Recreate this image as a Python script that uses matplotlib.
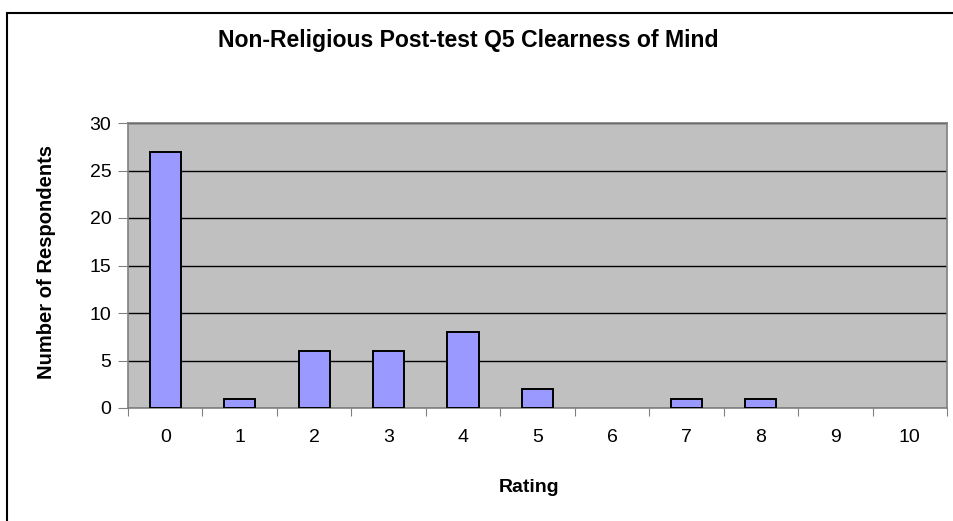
import matplotlib.pyplot as plt
from matplotlib.patches import Rectangle

plt.rcParams['font.family'] = ['Liberation Sans', 'DejaVu Sans']

ratings = [0, 1, 2, 3, 4, 5, 6, 7, 8, 9, 10]
counts = [27, 1, 6, 6, 8, 2, 0, 1, 1, 0, 0]
yticks = [0, 5, 10, 15, 20, 25, 30]

fig = plt.figure(figsize=(9.54, 5.21), dpi=100)
ax = fig.add_axes([128/954, 1 - 408/521, (947 - 128)/954, (408 - 123)/521])

# outer chart border
fig.patches.append(Rectangle((7.5/954, -0.01), 1.0, 1 - 13/521 + 0.01,
                             transform=fig.transFigure, fill=False,
                             edgecolor='black', linewidth=1.5))

ax.set_facecolor('#C0C0C0')
# empty categories get no outline, like Excel
edge_w = [1.4 if c > 0 else 0 for c in counts]
ax.bar(ratings, counts, width=0.42, color='#9999FF', edgecolor='black',
       linewidth=edge_w, zorder=3)

ax.set_xlim(-0.5, 10.5)
ax.set_ylim(0, 30)
ax.set_yticks(yticks)
ax.yaxis.grid(True, color='black', linewidth=1, zorder=1)
ax.set_axisbelow(True)

# category ticks between the bars
ax.set_xticks([x - 0.5 for x in ratings] + [10.5])
ax.set_xticklabels([])
ax.set_xticks(ratings, minor=True)
ax.set_xticklabels([str(r) for r in ratings], minor=True, fontsize=14)
ax.tick_params(axis='x', which='minor', length=0, pad=15)
ax.tick_params(axis='x', which='major', length=6, direction='out', color='#808080')
ax.tick_params(axis='y', labelsize=14, length=7, color='#808080', pad=5)

for s in ax.spines.values():
    s.set_color('#808080')
    s.set_linewidth(1.2)

fig.text(529/954, 1 - 487/521, 'Rating', ha='center', va='center',
         fontsize=14, fontweight='bold')
fig.text(47/954, 1 - 262/521, 'Number of Respondents', ha='center', va='center',
         rotation=90, fontsize=14.5, fontweight='bold')
fig.text(468/954, 1 - 41/521, 'Non-Religious Post-test Q5 Clearness of Mind',
         ha='center', va='center', fontsize=16.6, fontweight='bold')

fig.savefig('out.png', dpi=100)
